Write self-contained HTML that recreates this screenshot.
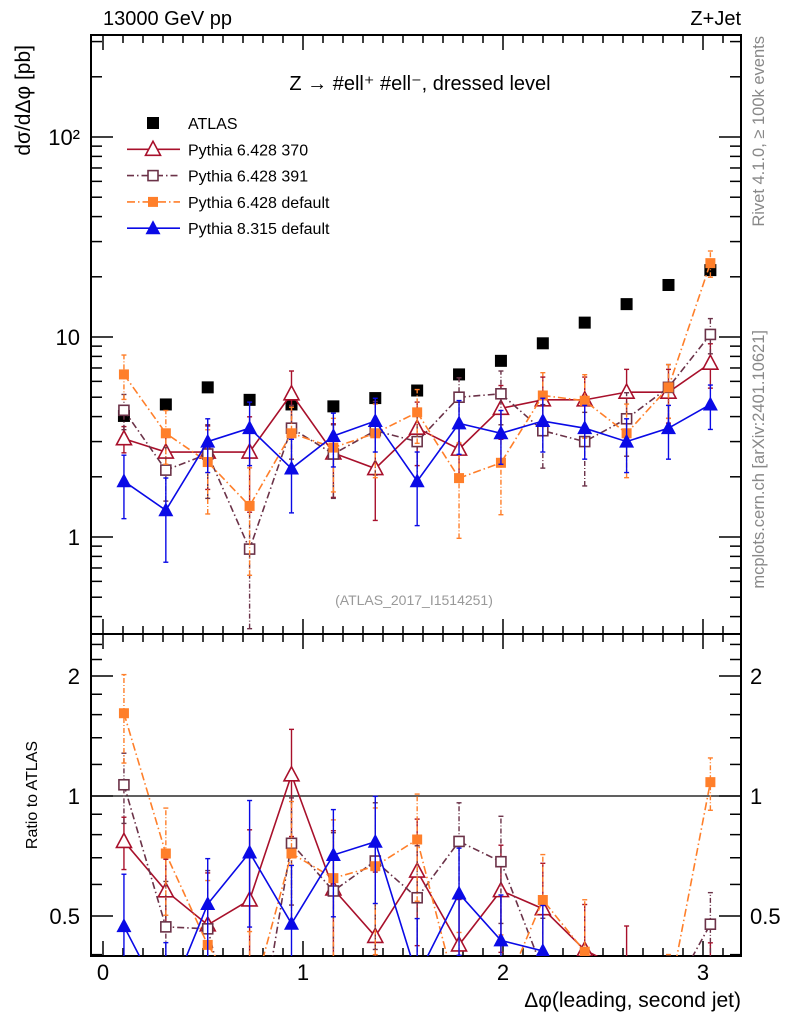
<!DOCTYPE html>
<html><head><meta charset="utf-8">
<style>
html,body{margin:0;padding:0;background:#fff;width:786px;height:1024px;overflow:hidden;}
svg{display:block;font-family:"Liberation Sans",sans-serif;}
</style></head>
<body>
<svg id="c" width="786" height="1024" viewBox="0 0 786 1024"></svg>
<script>
const xCenters=[0.1047,0.3142,0.5236,0.7330,0.9425,1.1519,1.3614,1.5708,1.7802,1.9897,2.1991,2.4086,2.6180,2.8274,3.0369];
const atlas=[4.03,4.6,5.6,4.85,4.6,4.5,4.95,5.4,6.5,7.6,9.3,11.8,14.6,18.2,21.6];
const p370=[3.1,2.66,2.66,2.66,5.2,2.63,2.2,3.5,2.75,4.4,4.85,4.85,5.3,5.3,7.4];
const p370err=[0.15,0.2,0.35,0.5,0.3,0.4,0.45,0.35,0.3,0.3,0.3,0.3,0.3,0.3,0.25];
const p391=[4.3,2.16,2.6,0.87,3.5,2.6,3.4,3.0,5.0,5.2,3.4,3.0,3.9,5.6,10.3];
const p391err=[0.2,0.3,0.4,0.6,0.3,0.4,0.4,0.35,0.25,0.3,0.35,0.4,0.35,0.3,0.2];
const p6d=[6.5,3.3,2.37,1.43,3.3,2.8,3.3,4.2,1.97,2.35,5.1,4.8,3.3,5.6,23.4];
const p6derr=[0.25,0.3,0.45,0.55,0.35,0.4,0.4,0.3,0.5,0.45,0.3,0.35,0.4,0.3,0.15];
const p8=[1.9,1.36,3.0,3.5,2.2,3.2,3.8,1.9,3.7,3.3,3.8,3.5,3.0,3.5,4.6];
const p8err=[0.35,0.45,0.3,0.35,0.4,0.3,0.3,0.4,0.3,0.3,0.3,0.3,0.3,0.3,0.25];
const xTicks=["0","1","2","3"];
const yMainTicks=["1","10","10²"];
const yRatioTicks=["0.5","1","2"];

const NS="http://www.w3.org/2000/svg";
const svg=document.getElementById('c');
const L=91,R=741,T=35,MB=634,RB=956;
const X=v=>103+200*v;
const Ym=v=>537-200*Math.log10(v);
const Yr=v=>796-120*Math.log2(v);
function el(tag,a,parent){const e=document.createElementNS(NS,tag);for(const k in a)e.setAttribute(k,a[k]);(parent||svg).appendChild(e);return e;}
function txt(s,a,parent){const e=el('text',a,parent);e.textContent=s;return e;}

const defs=el('defs',{});
const c1=el('clipPath',{id:'cm'},defs);el('rect',{x:L,y:T,width:R-L,height:MB-T},c1);
const c2=el('clipPath',{id:'cr'},defs);el('rect',{x:L,y:MB,width:R-L,height:RB-MB},c2);

const fm=el('rect',{x:L,y:T,width:R-L,height:MB-T,fill:'none',stroke:'#000','stroke-width':2});


const fr=el('rect',{x:L,y:MB,width:R-L,height:RB-MB,fill:'none',stroke:'#000','stroke-width':2});



const tg=el('g',{stroke:'#000','stroke-width':1.5});


for(let i=0;i<=31;i++){const v=i/10;const x=X(v);if(x<L||x>R)continue;const len=(i%10==0)?15:8;
 [T,MB].forEach(y=>el('line',{x1:x,y1:y,x2:x,y2:y+len},tg));
 [MB,RB].forEach(y=>el('line',{x1:x,y1:y,x2:x,y2:y-len},tg));}
xTicks.forEach((s,i)=>{const t=txt(s,{x:X(i),y:980,'font-size':22,'text-anchor':'middle'});
 });
for(let d=-1;d<=2;d++)for(let m=1;m<=9;m++){const v=m*Math.pow(10,d);const y=Ym(v);if(y<T||y>MB)continue;const len=m==1?22:11;
 el('line',{x1:L,y1:y,x2:L+len,y2:y},tg);el('line',{x1:R,y1:y,x2:R-len,y2:y},tg);}
const ymv=[1,10,100];
yMainTicks.forEach((s,i)=>{const t=txt(s,{x:80,y:Ym(ymv[i])+8,'font-size':22,'text-anchor':'end'});
 });
const rmin=[0.4,0.5,0.6,0.7,0.8,0.9,1,1.2,1.4,1.6,1.8,2,2.2,2.4];
rmin.forEach(v=>{const y=Yr(v);if(y<MB||y>RB)return;const len=(v==0.5||v==1||v==2)?22:11;
 el('line',{x1:L,y1:y,x2:L+len,y2:y},tg);el('line',{x1:R,y1:y,x2:R-len,y2:y},tg);});
const yrv=[0.5,1,2];
yRatioTicks.forEach((s,i)=>{const y=Yr(yrv[i])+8;
 let t=txt(s,{x:80,y:y,'font-size':22,'text-anchor':'end'});
 t=txt(s,{x:750,y:y,'font-size':22});});
const one=el('line',{x1:L,y1:Yr(1),x2:R,y2:Yr(1),stroke:'#000','stroke-width':1.2});


function marker(g,type,x,y,col){
 const s=6;
 if(type=='sqf')el('rect',{x:x-s,y:y-s,width:2*s,height:2*s,fill:col},g);
 if(type=='sqo')el('rect',{x:x-s+1,y:y-s+1,width:2*s-2,height:2*s-2,fill:'#fff',stroke:col,'stroke-width':1.6},g);
 if(type=='sqs')el('rect',{x:x-5,y:y-5,width:10,height:10,fill:col},g);
 if(type=='tro')el('polygon',{points:`${x},${y-8} ${x-7.5},${y+6} ${x+7.5},${y+6}`,fill:'#fff',stroke:col,'stroke-width':1.6},g);
 if(type=='trf')el('polygon',{points:`${x},${y-8} ${x-7.5},${y+6} ${x+7.5},${y+6}`,fill:col},g);
}
const series=[
 {name:'pythia-6428-370',vals:p370,err:p370err,col:'#a8102b',dash:'',m:'tro'},
 {name:'pythia-6428-391',vals:p391,err:p391err,col:'#6b3248',dash:'7,3,1.5,3',m:'sqo'},
 {name:'pythia-6428-default',vals:p6d,err:p6derr,col:'#ff7f2a',dash:'8,3,1.5,3',m:'sqs'},
 {name:'pythia-8315-default',vals:p8,err:p8err,col:'#0a0ae6',dash:'',m:'trf'}];
function drawSeries(s,Y,clip,ratio){
 const g=el('g',{'clip-path':`url(#${clip})`});
 
 
 const vals=s.vals.map((v,i)=>ratio?v/atlas[i]:v);
 el('polyline',{points:vals.map((v,i)=>X(xCenters[i])+','+Y(v)).join(' '),fill:'none',stroke:s.col,'stroke-width':1.6,'stroke-dasharray':s.dash},g);
 vals.forEach((v,i)=>{const x=X(xCenters[i]);const lo=Y(v*(1-s.err[i]));const hi=Y(v*(1+s.err[i]));
  el('line',{x1:x,y1:lo,x2:x,y2:hi,stroke:s.col,'stroke-width':1.4,'stroke-dasharray':s.dash?'5,2,1,2':''},g);
  el('line',{x1:x-2.5,y1:lo,x2:x+2.5,y2:lo,stroke:s.col,'stroke-width':1.4},g);
  el('line',{x1:x-2.5,y1:hi,x2:x+2.5,y2:hi,stroke:s.col,'stroke-width':1.4},g);
  marker(g,s.m,x,Y(v),s.col);});
}
const ag=el('g',{'clip-path':'url(#cm)'});


atlas.forEach((v,i)=>marker(ag,'sqf',X(xCenters[i]),Ym(v),'#000'));
series.forEach(s=>drawSeries(s,Ym,'cm',false));
series.forEach(s=>drawSeries(s,Yr,'cr',true));

const lg=el('g',{});


const labels=['ATLAS','Pythia 6.428 370','Pythia 6.428 391','Pythia 6.428 default','Pythia 8.315 default'];
labels.forEach((lab,i)=>{const y=123+i*26.3;const e=el('g',{},lg);
 
 if(i==0)marker(e,'sqf',153,y,'#000');else{const s=series[i-1];
  el('line',{x1:127,y1:y,x2:180,y2:y,stroke:s.col,'stroke-width':1.6,'stroke-dasharray':s.dash},e);marker(e,s.m,153,y,s.col);}
 txt(lab,{x:188,y:y+6,'font-size':16},e);});

function T2(s,a,name){const t=txt(s,a);return t;}
T2('13000 GeV pp',{x:103,y:25,'font-size':20},'energy-label');
T2('Z+Jet',{x:741,y:25,'font-size':20,'text-anchor':'end'},'process-label');
T2('Z  →  #ell⁺ #ell⁻, dressed level',{x:420,y:90,'font-size':20,'text-anchor':'middle','xml:space':'preserve'},'plot-title');
T2('(ATLAS_2017_I1514251)',{x:414,y:605,'font-size':14,'text-anchor':'middle',fill:'#999'},'analysis-id');
T2('dσ/dΔφ [pb]',{x:0,y:0,'font-size':21,'text-anchor':'end',transform:'translate(30,45) rotate(-90)'},'y-axis-title');
T2('Ratio to ATLAS',{x:0,y:0,'font-size':16,'text-anchor':'middle',transform:'translate(37,795) rotate(-90)'},'ratio-axis-title');
T2('Δφ(leading, second jet)',{x:741,y:1007,'font-size':21,'text-anchor':'end'},'x-axis-title');
T2('Rivet 4.1.0, ≥ 100k events',{x:0,y:0,'font-size':16.5,'text-anchor':'end',fill:'#888',transform:'translate(764,36) rotate(-90)'},'rivet-label');
T2('mcplots.cern.ch [arXiv:2401.10621]',{x:0,y:0,'font-size':16.5,'text-anchor':'end',fill:'#888',transform:'translate(764,330) rotate(-90)'},'mcplots-label');
</script>
</body></html>
